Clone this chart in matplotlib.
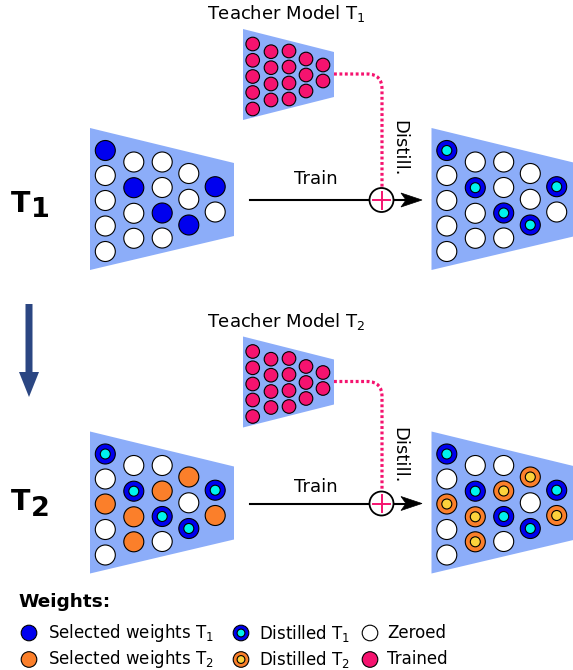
import matplotlib.pyplot as plt
from matplotlib.patches import Circle, Polygon, PathPatch
from matplotlib.path import Path

# weight states, column by column (top to bottom)
# S1 = selected T1, S2 = selected T2, D1 = distilled T1, D2 = distilled T2, Z = zeroed
task1_before = [["S1", "Z", "Z", "Z", "Z"], ["Z", "S1", "Z", "Z"], ["Z", "Z", "S1", "Z"],
                ["Z", "Z", "S1"], ["S1", "Z"]]
task1_after = [["D1", "Z", "Z", "Z", "Z"], ["Z", "D1", "Z", "Z"], ["Z", "Z", "D1", "Z"],
               ["Z", "Z", "D1"], ["D1", "Z"]]
task2_before = [["D1", "Z", "S2", "Z", "Z"], ["Z", "D1", "S2", "S2"], ["Z", "S2", "D1", "Z"],
                ["S2", "Z", "D1"], ["D1", "S2"]]
task2_after = [["D1", "Z", "D2", "Z", "Z"], ["Z", "D1", "D2", "D2"], ["Z", "D2", "D1", "Z"],
               ["D2", "Z", "D1"], ["D1", "D2"]]
teacher_cols = [5, 4, 4, 3, 2]

task_names = ["T$_1$", "T$_2$"]
legend_states = [["S1", "S2"], ["D1", "D2"], ["Z", "T"]]
legend_labels = [["Selected weights T$_1$", "Selected weights T$_2$"],
                 ["Distilled T$_1$", "Distilled T$_2$"],
                 ["Zeroed", "Trained"]]

# colours
NET = '#8cadf9'
BLUE = '#0000ee'
CYAN = '#00f2ee'
ORANGE = '#fb7f2a'
YELLOW = '#fcd23c'
PINK = '#f5136f'
DARK = '#2b4682'

# layout (pixels, origin top-left)
stu_x = [15.3, 43.8, 72.2, 98.8, 125.2]
stu_y = [[22.5, 47.5, 72.5, 98, 123.5], [34, 59.7, 85.3, 110.3], [34, 59.5, 85, 110],
         [45.5, 71.3, 97], [58.7, 84]]
tea_x = [9.7, 28, 46, 63, 80]
tea_y = [[15, 31.3, 47.5, 63.5, 80], [22.7, 38.7, 55, 71], [22, 38, 54, 70],
         [30, 46, 62], [36, 52]]

fig = plt.figure(figsize=(5.73, 6.70), dpi=100)
ax = fig.add_axes([0, 0, 1, 1])
ax.set_xlim(0, 573)
ax.set_ylim(670, 0)
ax.axis('off')


def weight(x, y, state, r=10):
    if state == "D1" or state == "D2":
        outer, inner = (BLUE, CYAN) if state == "D1" else (ORANGE, YELLOW)
        ax.add_patch(Circle((x, y), r, fc=outer, ec='k', lw=0.8, zorder=3))
        ax.add_patch(Circle((x, y), r * 0.5, fc=inner, ec='k', lw=0.8, zorder=4))
    else:
        fc = {"S1": BLUE, "S2": ORANGE, "Z": 'white', "T": PINK}[state]
        ax.add_patch(Circle((x, y), r, fc=fc, ec='k', lw=0.8, zorder=3))


def student(x0, y0, states):
    ax.add_patch(Polygon([(x0, y0), (x0 + 144, y0 + 35), (x0 + 144, y0 + 108), (x0, y0 + 142)],
                         closed=True, fc=NET, ec='none', zorder=1))
    for i, col in enumerate(states):
        for j, s in enumerate(col):
            weight(x0 + stu_x[i], y0 + stu_y[i][j], s)


def teacher(x0, y0):
    ax.add_patch(Polygon([(x0, y0), (x0 + 91, y0 + 23), (x0 + 91, y0 + 68), (x0, y0 + 91)],
                         closed=True, fc=NET, ec='none', zorder=1))
    for i, n in enumerate(teacher_cols):
        for j in range(n):
            weight(x0 + tea_x[i], y0 + tea_y[i][j], "T", r=6.8)


def row(ys, yt, name, before, after):
    # ys: student offset, yt: teacher offset
    teacher(243, 29 + yt)
    ax.text(286, 14 + yt, "Teacher Model " + name, fontsize=13, ha='center', va='center')
    student(90, 128 + ys, before)
    student(431.5, 128 + ys, after)

    # distillation path
    verts = [(334, 74 + yt), (367, 74 + yt), (382, 74 + yt), (382, 89 + yt), (382, 190 + ys)]
    codes = [Path.MOVETO, Path.LINETO, Path.CURVE3, Path.CURVE3, Path.LINETO]
    ax.add_patch(PathPatch(Path(verts, codes), fc='none', ec=PINK, lw=2.3,
                           ls=(0, (0.9, 0.8)), zorder=2))
    ax.text(399.5, 148 + yt, "Distill.", fontsize=13, rotation=-90, ha='center', va='center')

    # train arrow
    yl = 200 + ys
    ax.plot([250, 407], [yl, yl], color='k', lw=1.5, zorder=2)
    ax.add_patch(Polygon([(422, yl), (401, yl - 7), (406, yl), (401, yl + 7)],
                         closed=True, fc='k', ec='k', lw=0.5, zorder=2))
    ax.text(316, 179 + yt, "Train", fontsize=13, ha='center', va='center')
    ax.add_patch(Circle((381.5, yl), 12, fc='white', ec='k', lw=1.3, zorder=5))
    ax.plot([373, 390], [yl, yl], color=PINK, lw=1.4, zorder=6)
    ax.plot([381.5, 381.5], [yl - 8.5, yl + 8.5], color=PINK, lw=1.4, zorder=6)


row(0, 0, task_names[0], task1_before, task1_after)
row(303.5, 307.5, task_names[1], task2_before, task2_after)

# big task labels
ax.text(10.5, 211.7, "T", fontsize=20.5, fontweight='bold', va='baseline')
ax.text(30.5, 216.7, "1", fontsize=19.5, fontweight='bold', va='baseline')
ax.text(11, 510, "T", fontsize=20.5, fontweight='bold', va='baseline')
ax.text(31, 516, "2", fontsize=19.5, fontweight='bold', va='baseline')

# task sequence arrow
ax.arrow(29, 304, 0, 93, width=7, head_width=20, head_length=25,
         length_includes_head=True, fc=DARK, ec='none')

# legend
ax.text(18, 602, "Weights:", fontsize=13.3, fontweight='bold', va='center')
mx = [29, 241, 370]
tx = [48, 259, 387]
ly = [633, 659.5]
for c in range(3):
    for r in range(2):
        weight(mx[c], ly[r], legend_states[c][r], r=7.8)
        ax.text(tx[c], ly[r], legend_labels[c][r], fontsize=12, va='center')

fig.savefig('out.png', dpi=100)
